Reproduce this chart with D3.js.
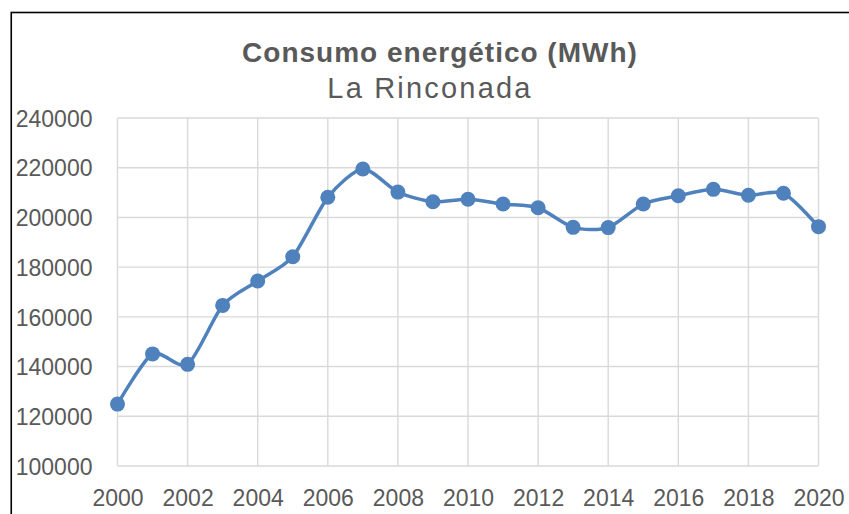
<!DOCTYPE html>
<html>
<head>
<meta charset="utf-8">
<script src="https://cdn.jsdelivr.net/npm/d3@7"></script>
<style>
  html, body { margin: 0; padding: 0; background: #ffffff; overflow: hidden; }
  svg { display: block; }
</style>
</head>
<body>
<svg id="chart" width="849" height="514"></svg>
<script>
// Annual energy consumption, La Rinconada (MWh)
const years = [2000, 2001, 2002, 2003, 2004, 2005, 2006, 2007, 2008, 2009, 2010,
               2011, 2012, 2013, 2014, 2015, 2016, 2017, 2018, 2019, 2020];
const consumo = [124900, 145100, 140900, 164600, 174400, 184200, 208100, 219500, 210200, 206300, 207300,
                 205400, 203900, 196000, 195900, 205400, 208700, 211300, 208900, 209700, 196300];
const xTicks = [2000, 2002, 2004, 2006, 2008, 2010, 2012, 2014, 2016, 2018, 2020];
const yTicks = [100000, 120000, 140000, 160000, 180000, 200000, 220000, 240000];

const title = "Consumo energético (MWh)";
const subtitle = "La Rinconada";

const textColor = "#595959";
const gridColor = "#d9d9d9";
const lineColor = "#4f81bd";

const svg = d3.select("#chart");

// outer chart frame (continues past the right and bottom edges)
svg.append("rect")
  .attr("x", 11.25).attr("y", 12.5)
  .attr("width", 900).attr("height", 600)
  .attr("fill", "#ffffff")
  .attr("stroke", "#000000")
  .attr("stroke-width", 1.6);

const plot = { left: 117.5, right: 818.5, top: 118, bottom: 466 };

const x = d3.scaleLinear().domain([2000, 2020]).range([plot.left, plot.right]);
const y = d3.scaleLinear().domain([100000, 240000]).range([plot.bottom, plot.top]);

// titles
svg.append("text")
  .attr("x", 440).attr("y", 62)
  .attr("text-anchor", "middle")
  .attr("font-family", "'Liberation Sans', Arial, sans-serif")
  .attr("font-weight", "bold")
  .attr("font-size", 28)
  .attr("letter-spacing", 1)
  .attr("fill", textColor)
  .text(title);

svg.append("text")
  .attr("x", 430).attr("y", 98)
  .attr("text-anchor", "middle")
  .attr("font-family", "'Liberation Sans', Arial, sans-serif")
  .attr("font-size", 29)
  .attr("letter-spacing", 2.2)
  .attr("fill", textColor)
  .text(subtitle);

// gridlines
const grid = svg.append("g").attr("stroke", gridColor).attr("stroke-width", 1.4);
grid.selectAll("line.h").data(yTicks).join("line")
  .attr("class", "h")
  .attr("x1", plot.left).attr("x2", plot.right)
  .attr("y1", d => y(d)).attr("y2", d => y(d));
grid.selectAll("line.v").data(xTicks).join("line")
  .attr("class", "v")
  .attr("x1", d => x(d)).attr("x2", d => x(d))
  .attr("y1", plot.top).attr("y2", plot.bottom);

// axes (labels only; the grid carries the lines)
const yAxis = svg.append("g")
  .attr("transform", `translate(${plot.left - 25},0)`)
  .call(d3.axisLeft(y).tickValues(yTicks).tickSize(0).tickPadding(0).tickFormat(d3.format("d")));
yAxis.select(".domain").remove();
yAxis.selectAll("text")
  .attr("font-family", "'Liberation Sans', Arial, sans-serif")
  .attr("font-size", 23)
  .attr("fill", textColor)
  .attr("dy", "0.36em");

const xAxis = svg.append("g")
  .attr("transform", `translate(0,${plot.bottom})`)
  .call(d3.axisBottom(x).tickValues(xTicks).tickSize(0).tickPadding(0).tickFormat(d3.format("d")));
xAxis.select(".domain").remove();
xAxis.selectAll("text")
  .attr("font-family", "'Liberation Sans', Arial, sans-serif")
  .attr("font-size", 23)
  .attr("fill", textColor)
  .attr("dy", null)
  .attr("y", 40);

// smoothed series line
const data = years.map((yr, i) => ({ yr, v: consumo[i] }));
const line = d3.line()
  .x(d => x(d.yr))
  .y(d => y(d.v))
  .curve(d3.curveCardinal.tension(0.25));

svg.append("path")
  .datum(data)
  .attr("fill", "none")
  .attr("stroke", lineColor)
  .attr("stroke-width", 3.5)
  .attr("stroke-linejoin", "round")
  .attr("stroke-linecap", "round")
  .attr("d", line);

svg.append("g").selectAll("circle").data(data).join("circle")
  .attr("cx", d => x(d.yr))
  .attr("cy", d => y(d.v))
  .attr("r", 7.5)
  .attr("fill", lineColor);
</script>
</body>
</html>
